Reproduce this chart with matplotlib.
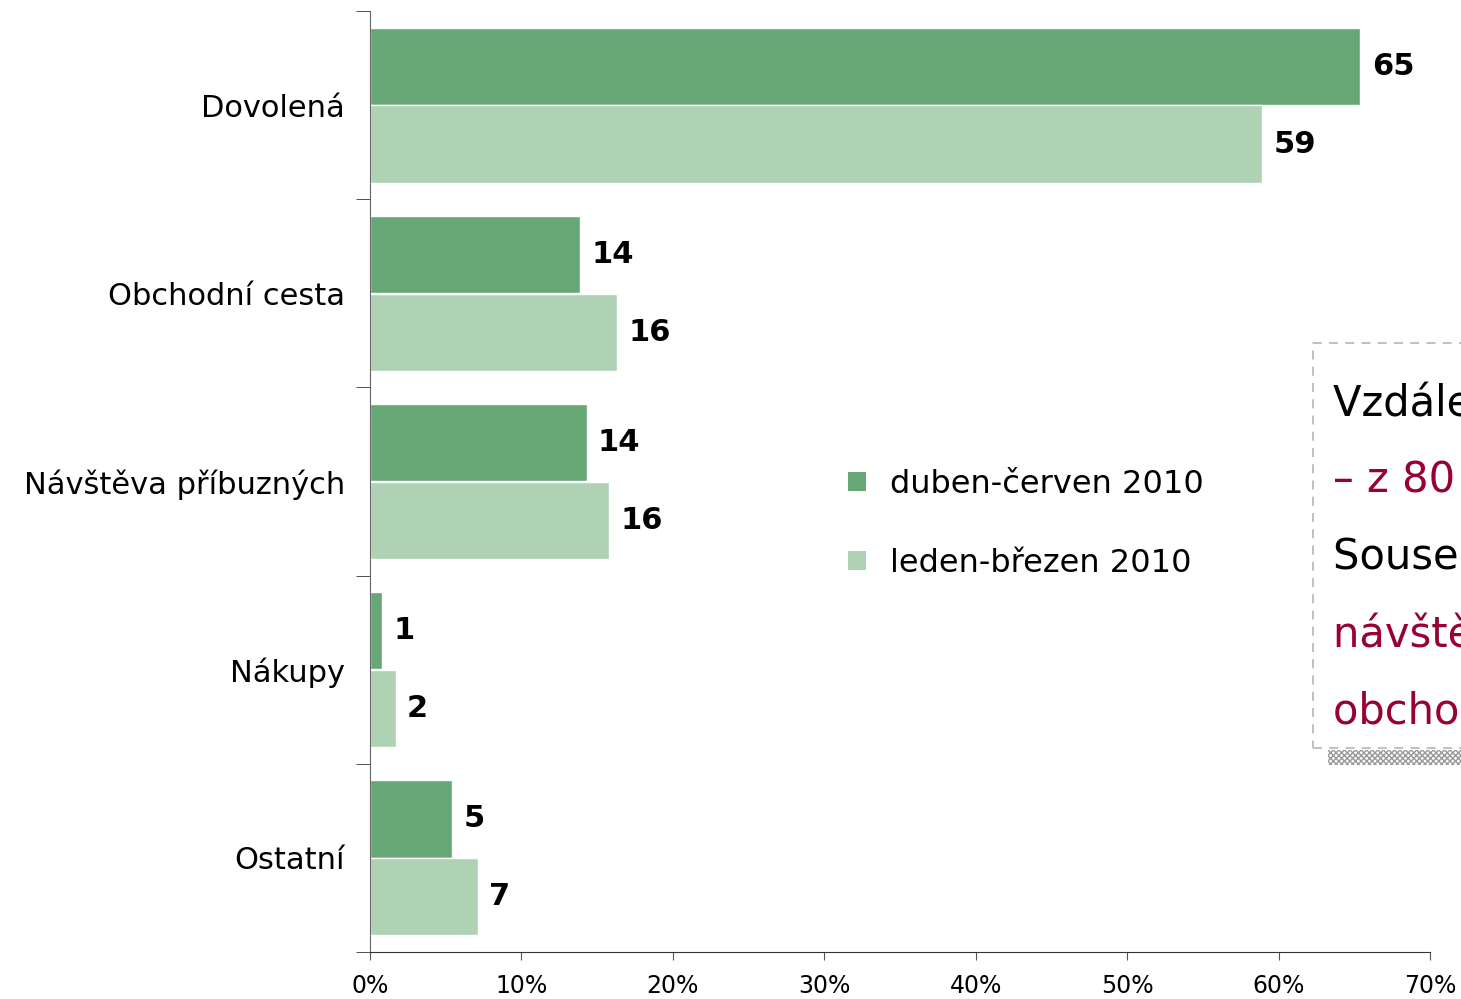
import numpy as np
import matplotlib
matplotlib.use('Agg')
import matplotlib.pyplot as plt
from matplotlib.patches import Rectangle, Patch

categories = ['Dovolená', 'Obchodní cesta', 'Návštěva příbuzných', 'Nákupy', 'Ostatní']
q2_2010 = [65.4, 13.9, 14.3, 0.8, 5.4]
q1_2010 = [58.9, 16.3, 15.8, 1.7, 7.1]
q2_labels = ['65', '14', '14', '1', '5']
q1_labels = ['59', '16', '16', '2', '7']
series_names = ['duben-červen 2010', 'leden-březen 2010']
xticks = [0, 10, 20, 30, 40, 50, 60, 70]

dark = '#67a776'
light = '#afd1b4'
red = '#990033'

plt.rcParams['font.family'] = ['DejaVu Sans']

fig = plt.figure(figsize=(14.61, 9.99), dpi=100)
ax = fig.add_axes([370/1461, 47/999, 1060/1461, 941/999])

y = np.arange(len(categories))
h = 0.41
ax.barh(y - 0.207, q2_2010, height=h, color=dark, edgecolor='white', linewidth=1)
ax.barh(y + 0.207, q1_2010, height=h, color=light, edgecolor='white', linewidth=1)

for i in range(len(categories)):
    ax.text(q2_2010[i] + 0.75, y[i] - 0.207, q2_labels[i], va='center', ha='left',
            fontsize=22, fontweight='bold')
    ax.text(q1_2010[i] + 0.75, y[i] + 0.207, q1_labels[i], va='center', ha='left',
            fontsize=22, fontweight='bold')

ax.set_ylim(len(categories) - 0.5, -0.5)
ax.set_xlim(0, 70)
ax.set_yticks(y)
ax.set_yticklabels(categories, fontsize=22)
ax.set_yticks(np.arange(-0.5, len(categories)), minor=True)
ax.tick_params(axis='y', which='major', length=0, pad=18)
ax.tick_params(axis='y', which='minor', length=10, color='#333333', direction='out')
ax.set_xticks(xticks)
ax.set_xticklabels([f'{t}%' for t in xticks], fontsize=17)
ax.tick_params(axis='x', length=6, color='#555555', pad=10)

for s in ['top', 'right']:
    ax.spines[s].set_visible(False)
ax.spines['left'].set_color('#666666')
ax.spines['bottom'].set_color('#333333')

handles = [Patch(facecolor=dark, edgecolor='none'), Patch(facecolor=light, edgecolor='none')]
ax.legend(handles, series_names, loc='center left', bbox_to_anchor=(0.451, 0.455),
          frameon=False, fontsize=23, handlelength=0.55, handleheight=0.55,
          handletextpad=0.75, labelspacing=1.5, borderpad=0, borderaxespad=0)

# text box cut at the right edge
box = Rectangle((1313/1461, 1 - 748/999), 200/1461, 405/999, transform=fig.transFigure,
                facecolor='white', edgecolor='#bbbbbb', linestyle=(0, (5, 4)), linewidth=1.3)
fig.patches.append(box)
shadow = Rectangle((1328/1461, 1 - 765/999), 200/1461, 15/999, transform=fig.transFigure,
                   facecolor='white', edgecolor='#999999', hatch='xxxxxx', linewidth=0)
fig.patches.append(shadow)

lines = [('Vzdálenější cíle', 'black'), ('– z 80 % dovolená', red), ('Sousední země', 'black'),
         ('návštěva příbuzných', red), ('obchodní cesty', red)]
ys = [403, 481, 557, 634, 711]
for (t, c), yy in zip(lines, ys):
    fig.text(1333/1461, 1 - yy/999, t, color=c, fontsize=30, fontweight='medium',
             va='center', ha='left')

fig.savefig('out.png', dpi=100)
